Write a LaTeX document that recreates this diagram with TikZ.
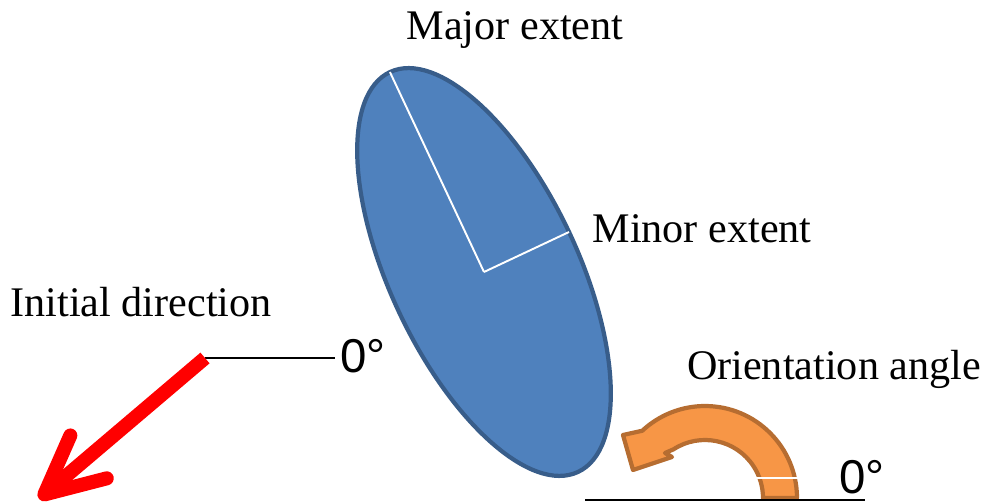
\documentclass[tikz,border=0pt]{standalone}
\usepackage{fontspec}
\setmainfont{Liberation Serif}
\newfontfamily\degfont{Liberation Sans}
\definecolor{blobfill}{RGB}{79,129,189}
\definecolor{blobline}{RGB}{56,93,138}
\definecolor{turnfill}{RGB}{247,150,70}
\definecolor{turnline}{RGB}{182,109,49}
\usetikzlibrary{arrows.meta,positioning,calc,shapes.geometric}

\begin{document}
\begin{tikzpicture}[x=0.02cm, y=0.02cm,
    caption/.style={font=\fontsize{24}{28}\selectfont, inner sep=1pt},
    zero/.style={font=\degfont\fontsize{27}{30}\selectfont, inner sep=0pt}]
  \useasboundingbox (0,0) rectangle (986,503);

  % the ellipse and its two half axes
  \node[ellipse, draw=blobline, fill=blobfill, line width=2.4pt, inner sep=0pt, outer sep=0pt,
        minimum width=8.84cm, minimum height=3.76cm, rotate=115.2] (blob) at (484,231) {};
  \draw[white, line width=1.1pt] (blob.center) -- (blob.east);
  \draw[white, line width=1.1pt] (blob.center) -- (blob.south);

  \node[caption, anchor=base] (major) at (515,463) {Major extent};
  \node[caption, anchor=base] (minor) at (702,260) {Minor extent};
  \node[caption, anchor=base] (initial) at (141,186) {Initial direction};
  \node[caption, anchor=base] (orient) at (834,123) {Orientation angle};

  % initial direction
  \node[zero, anchor=base] (zeroL) at (363,130) {0°};
  \coordinate (tail) at (205,145);
  \coordinate (tip) at (39,4);
  \draw[line width=1.1pt] (tail) -- ([xshift=-3pt]tail -| zeroL.west);
  \draw[red, line width=8pt, -{Straight Barb[round, length=33pt, width=32pt]}] (tail) -- (tip);

  % orientation angle
  \coordinate (pivot) at (705,5);
  \draw[turnline, fill=turnfill, line width=2.4pt, line join=round]
    ($(pivot)+(0:1.84cm)$) arc[start angle=0, end angle=133, radius=1.84cm]
    -- (623,68) -- (633,33) -- (672,46) -- (665,50)
    -- ($(pivot)+(123:1.16cm)$) arc[start angle=123, end angle=0, radius=1.16cm] -- cycle;
  \draw[white, line width=0.9pt] (576,25) -- (800,25);

  \node[zero, anchor=base] (zeroB) at (862,9) {0°};
  \draw[line width=1.3pt] (585,3) -- (865,3);
\end{tikzpicture}
\end{document}
